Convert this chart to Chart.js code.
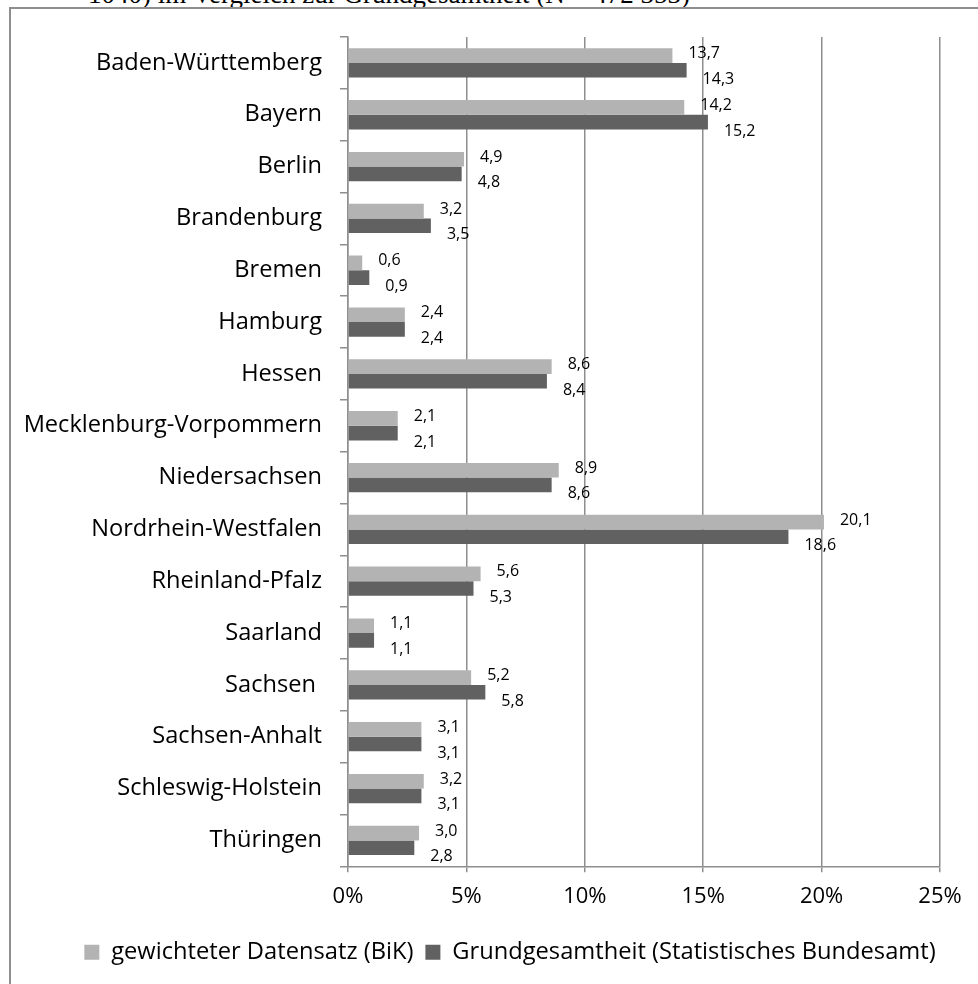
<!DOCTYPE html>
<html>
<head>
<meta charset="utf-8">
<script src="https://cdn.jsdelivr.net/npm/chart.js@4"></script>
<style>
    html, body { margin: 0; padding: 0; background: #fff; overflow: hidden; }
    #caption {
        position: absolute; left: 88px; top: -21px; line-height: 27px;
        font: 27px "Liberation Serif", serif; color: #000; white-space: nowrap;
    }
    #frame {
        position: absolute; left: 9px; top: 7px; width: 1000px; height: 1000px;
        border: 2px solid #8e8e8e; box-sizing: border-box;
    }
    #wrap { position: absolute; left: 0; top: 0; width: 978px; height: 984px; }
</style>
</head>
<body>
<div id="caption">1040) im Vergleich zur Grundgesamtheit (N = 472 353)</div>
<div id="frame"></div>
<div id="wrap"><canvas id="barChart" width="978" height="984"></canvas></div>
<script>
// Bundeslaender, top to bottom
var laender = ['Baden-Württemberg', 'Bayern', 'Berlin', 'Brandenburg', 'Bremen', 'Hamburg', 'Hessen',
    'Mecklenburg-Vorpommern', 'Niedersachsen', 'Nordrhein-Westfalen', 'Rheinland-Pfalz', 'Saarland',
    'Sachsen ', 'Sachsen-Anhalt', 'Schleswig-Holstein', 'Thüringen'];

// shares in percent
var gewichtet = [13.7, 14.2, 4.9, 3.2, 0.6, 2.4, 8.6, 2.1, 8.9, 20.1, 5.6, 1.1, 5.2, 3.1, 3.2, 3.0];
var grundgesamtheit = [14.3, 15.2, 4.8, 3.5, 0.9, 2.4, 8.4, 2.1, 8.6, 18.6, 5.3, 1.1, 5.8, 3.1, 3.1, 2.8];

var seriesNames = ['gewichteter Datensatz (BiK)', 'Grundgesamtheit (Statistisches Bundesamt)'];
var xTicks = [0, 5, 10, 15, 20, 25];

var gridGrey = '#8e8e8e';
var fontName = '"Open Sans", sans-serif';

// value labels right of each bar end (light one a bit up, dark one a bit down)
var valueLabels = {
    id: 'valueLabels',
    afterDatasetsDraw: function (chart) {
        var ctx = chart.ctx;
        ctx.save();
        ctx.font = '16px ' + fontName;
        ctx.fillStyle = '#000';
        ctx.textAlign = 'left';
        ctx.textBaseline = 'middle';
        chart.data.datasets.forEach(function (ds, di) {
            chart.getDatasetMeta(di).data.forEach(function (bar, i) {
                var txt = ds.data[i].toFixed(1).replace('.', ',');
                ctx.fillText(txt, bar.x + 16, bar.y + (di === 0 ? -2 : 9));
            });
        });
        ctx.restore();
    }
};

// the legend sits a bit right of the canvas centre in the original
var legendShift = {
    id: 'legendShift',
    afterLayout: function (chart) {
        var lg = chart.legend;
        var dx = 510 - (lg.left + lg.right) / 2;
        lg.left += dx;
        lg.right += dx;
    }
};

var ctx = document.getElementById('barChart').getContext('2d');
var barChart = new Chart(ctx, {
    type: 'bar',
    data: {
        labels: laender,
        datasets: [
            {
                label: seriesNames[0],
                data: gewichtet,
                backgroundColor: '#b3b3b3',
                categoryPercentage: 0.565,
                barPercentage: 1.0
            },
            {
                label: seriesNames[1],
                data: grundgesamtheit,
                backgroundColor: '#616161',
                categoryPercentage: 0.565,
                barPercentage: 1.0
            }
        ]
    },
    options: {
        indexAxis: 'y',
        responsive: false,
        animation: false,
        layout: {
            padding: { left: 0, right: 38, top: 37, bottom: 10 }
        },
        scales: {
            x: {
                min: 0,
                max: 25,
                afterBuildTicks: function (scale) {
                    scale.ticks = xTicks.map(function (v) { return { value: v }; });
                },
                afterFit: function (scale) { scale.height = 62; },
                ticks: {
                    callback: function (v) { return v + '%'; },
                    color: '#000',
                    font: { family: fontName, size: 22 },
                    padding: 11
                },
                grid: {
                    color: gridGrey,
                    lineWidth: 1.5,
                    tickLength: 6
                },
                border: { color: gridGrey, width: 1.5 }
            },
            y: {
                afterFit: function (scale) { scale.width = 348; },
                ticks: {
                    color: '#000',
                    font: { family: fontName, size: 23.6 },
                    padding: 18,
                    autoSkip: false
                },
                grid: {
                    offset: true,
                    drawOnChartArea: false,
                    color: gridGrey,
                    lineWidth: 1.5,
                    tickLength: 8
                },
                border: { color: gridGrey, width: 1.5 }
            }
        },
        plugins: {
            legend: {
                position: 'bottom',
                labels: {
                    boxWidth: 15,
                    boxHeight: 15,
                    color: '#000',
                    font: { family: fontName, size: 23.7 },
                    padding: 12
                }
            },
            tooltip: { enabled: false }
        }
    },
    plugins: [valueLabels, legendShift]
});
</script>
</body>
</html>
